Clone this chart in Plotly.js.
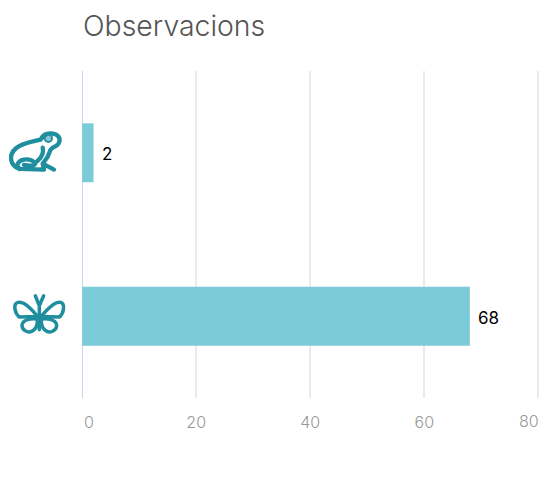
<!DOCTYPE html>
<html><head><meta charset="utf-8">
<script src="https://cdn.plot.ly/plotly-3.0.1.min.js"></script>
<style>html,body{margin:0;padding:0;background:#fff}</style></head>
<body><div id="chart" style="width:540px;height:488px"></div>
<script>
const categories = ['Papallona', 'Granota'];
const observations = [68, 2];
const tickValues = [0, 20, 40, 60, 80];
const tickLabels = ['\u00A0\u00A0\u00A00', '20', '40', '60', ''];
const lastTick = {value: 80, label: '80'};
const titleText = 'Observacions';

const FONT = 'Inter, Lato, sans-serif';
const W = 540, H = 488, L = 81, R = 0, T = 71, B = 90;
const PW = W - L - R, PH = H - T - B, BAND = PH / categories.length;

const ink = '#1f8e9e';
const frog = `<svg xmlns="http://www.w3.org/2000/svg" viewBox="0 -7.5 360 270" width="360" height="270"><g fill="none" stroke="${ink}" stroke-width="13" stroke-linecap="round" stroke-linejoin="round"><path d="M58 176 C30 165 24 135 48 114 C68 97 100 94 122 88 C130 70 150 66 166 72 C184 80 182 100 166 108 C156 112 150 118 148 128 C144 142 135 150 128 160 L162 178 M128 160 L132 178 L62 176 C46 172 50 152 72 148 C88 146 100 152 106 160 C100 170 85 166 72 164 M112 152 C125 142 132 128 128 112"/></g><circle cx="145" cy="84" r="11" fill="${ink}" fill-opacity="0.5" stroke="${ink}" stroke-width="6"/></svg>`;
const butterfly = `<svg xmlns="http://www.w3.org/2000/svg" viewBox="0 4.5 360 210" width="360" height="210"><g fill="none" stroke="${ink}" stroke-width="10.5" stroke-linecap="round" stroke-linejoin="round"><path d="M118 150 L118 70 M118 78 L106 48 M118 78 L131 48"/><path d="M112 110 C95 88 72 64 54 68 C38 72 44 100 58 112 Z"/><path d="M124 110 C142 88 164 64 182 68 C196 72 192 100 178 112 Z"/><path d="M112 118 C92 114 68 120 66 136 C66 154 88 162 100 152 C108 146 113 132 112 118"/><path d="M124 118 C144 114 168 120 170 136 C170 154 148 162 136 152 C128 146 123 132 124 118"/></g></svg>`;
const uri = s => 'data:image/svg+xml;base64,' + btoa(s);

const data = [{
  type: 'bar', orientation: 'h',
  y: categories, x: observations,
  width: 0.36,
  marker: {color: '#7ccbd8', line: {width: 0}},
  hoverinfo: 'x+y'
}];
const valueNotes = observations.map((v, i) => ({
  xref: 'x', yref: 'y', x: v, y: i, text: String(v), showarrow: false,
  xanchor: 'left', yanchor: 'middle', xshift: 6.5, yshift: -1.5,
  font: {family: FONT, size: 17, color: '#000'}
}));
const tickFont = {family: FONT, size: 16, weight: 300, color: '#999'};
const layout = {
  width: W, height: H, autosize: false, showlegend: false,
  paper_bgcolor: '#fff', plot_bgcolor: '#fff',
  margin: {l: L, r: R, t: T, b: B, pad: 0},
  title: {text: titleText, x: 83 / W, xanchor: 'left', y: 1 - 26 / H, yanchor: 'middle',
    font: {family: FONT, size: 28.4, weight: 300, color: '#555'}},
  xaxis: {range: [-0.2, 80.3], tickmode: 'array', tickvals: tickValues, ticktext: tickLabels,
    showgrid: true, gridcolor: '#ebebeb', gridwidth: 2,
    zeroline: true, zerolinecolor: '#c6d4ec', zerolinewidth: 1, showline: false,
    ticks: '', ticklabelstandoff: 13, tickangle: 0, tickfont: tickFont, automargin: false},
  yaxis: {type: 'category', categoryorder: 'array', categoryarray: categories, range: [-0.5, 1.5],
    showgrid: false, zeroline: false, showline: false, showticklabels: false, ticks: ''},
  annotations: valueNotes.concat([{
    xref: 'x', yref: 'paper', x: lastTick.value, y: 0, text: lastTick.label, showarrow: false,
    xanchor: 'center', yanchor: 'middle', xshift: -9, yshift: -23, font: tickFont
  }]),
  images: [
    {source: uri(butterfly), xref: 'paper', yref: 'y', x: -L / PW, y: 0, sizex: 120 / PW, sizey: 70 / BAND,
     xanchor: 'left', yanchor: 'middle', sizing: 'stretch', layer: 'above'},
    {source: uri(frog), xref: 'paper', yref: 'y', x: -L / PW, y: 1, sizex: 120 / PW, sizey: 90 / BAND,
     xanchor: 'left', yanchor: 'middle', sizing: 'stretch', layer: 'above'}
  ]
};
Plotly.newPlot('chart', data, layout, {displayModeBar: false, staticPlot: true});
</script></body></html>
